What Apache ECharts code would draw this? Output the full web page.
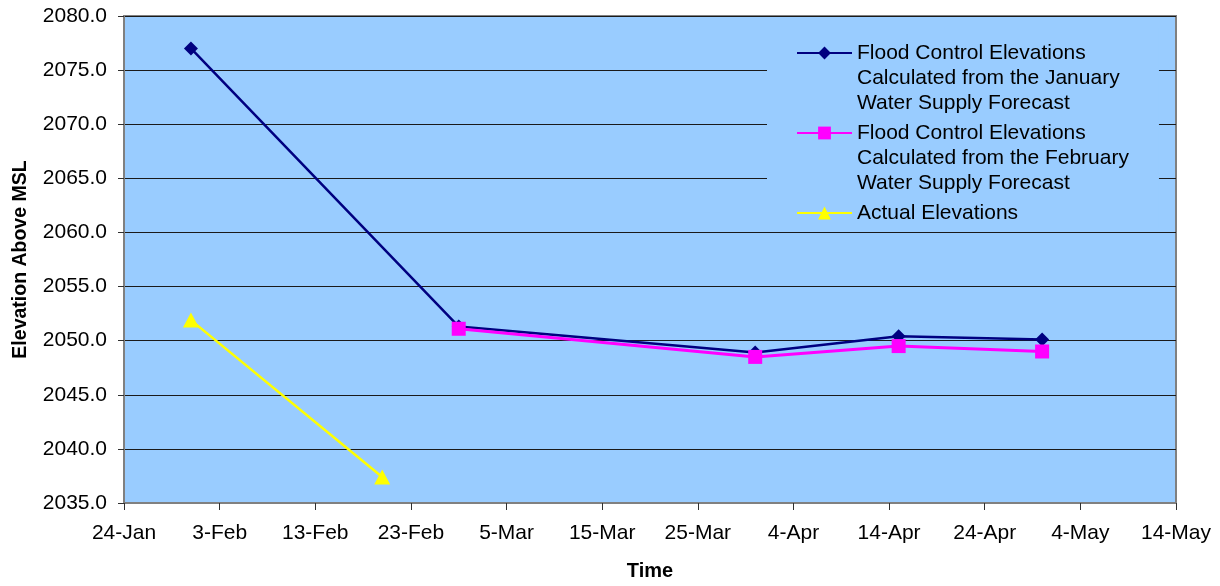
<!DOCTYPE html>
<html>
<head>
<meta charset="utf-8">
<script src="https://cdn.jsdelivr.net/npm/echarts@6/dist/echarts.min.js"></script>
<style>
  html, body { margin: 0; padding: 0; background: #ffffff; }
  #chart { width: 1220px; height: 586px; }
</style>
</head>
<body>
<div id="chart"></div>
<script>
// Reservoir elevations (feet above mean sea level) through the spring
const seriesNames = [
  'Flood Control Elevations\nCalculated from the January\nWater Supply Forecast',
  'Flood Control Elevations\nCalculated from the February\nWater Supply Forecast',
  'Actual Elevations'
];

const januaryDates  = ['2005-01-31', '2005-02-28', '2005-03-31', '2005-04-15', '2005-04-30'];
const januaryValues = [2077.0, 2051.3, 2048.9, 2050.4, 2050.1];

const februaryDates  = ['2005-02-28', '2005-03-31', '2005-04-15', '2005-04-30'];
const februaryValues = [2051.1, 2048.5, 2049.5, 2049.0];

const actualDates  = ['2005-01-31', '2005-02-20'];
const actualValues = [2051.9, 2037.4];

// Time axis runs 24-Jan to 14-May in 10-day steps
const axisStart = '2005-01-24';
const axisEnd   = '2005-05-14';
const tickDays  = 10;
const monthLabels = ['Jan', 'Feb', 'Mar', 'Apr', 'May', 'Jun', 'Jul', 'Aug', 'Sep', 'Oct', 'Nov', 'Dec'];

const yMin = 2035, yMax = 2080, yStep = 5;

const DAY = 86400000;
function toUTC(s) {
  const p = s.split('-').map(Number);
  return Date.UTC(p[0], p[1] - 1, p[2]);
}
const baseTime = toUTC(axisStart);
function dayOffset(s) { return Math.round((toUTC(s) - baseTime) / DAY); }
function pairs(dates, values) { return dates.map((d, i) => [dayOffset(d), values[i]]); }
function dayLabel(v) {
  const d = new Date(baseTime + v * DAY);
  return d.getUTCDate() + '-' + monthLabels[d.getUTCMonth()];
}

// Legend entries are padded with blank lines so every block is five lines
// tall and its first text line sits level with the line/marker icon.
function legendText(name) {
  const lines = name.split('\n').length;
  return '\n\n' + name + '\n'.repeat(Math.max(0, 3 - lines));
}

const FONT = '"Liberation Sans", Arial, sans-serif';

const chart = echarts.init(document.getElementById('chart'), null, { renderer: 'canvas' });

chart.setOption({
  animation: false,
  backgroundColor: '#ffffff',
  textStyle: { fontFamily: FONT },
  grid: {
    left: 124, right: 44, top: 16, bottom: 81,
    show: true,
    backgroundColor: '#99ccff',
    borderColor: '#808080',
    borderWidth: 2
  },
  xAxis: {
    type: 'value',
    min: 0,
    max: dayOffset(axisEnd),
    interval: tickDays,
    name: 'Time',
    nameLocation: 'middle',
    nameGap: 58,
    nameTextStyle: { fontFamily: FONT, fontSize: 20, fontWeight: 'bold', color: '#000' },
    axisLine: { show: true, onZero: false, lineStyle: { color: '#808080', width: 2 } },
    axisTick: { show: true, inside: false, length: 7, lineStyle: { color: '#303030', width: 1 } },
    axisLabel: {
      margin: 20,
      fontFamily: FONT, fontSize: 21, color: '#000',
      formatter: dayLabel
    },
    splitLine: { show: false }
  },
  yAxis: {
    type: 'value',
    min: yMin, max: yMax, interval: yStep,
    name: 'Elevation Above MSL',
    nameLocation: 'middle',
    nameGap: 93,
    nameRotate: 90,
    nameTextStyle: { fontFamily: FONT, fontSize: 19.5, fontWeight: 'bold', color: '#000' },
    axisLine: { show: true, lineStyle: { color: '#808080', width: 2 } },
    axisTick: { show: true, inside: false, length: 6, lineStyle: { color: '#303030', width: 1 } },
    axisLabel: {
      margin: 17,
      fontFamily: FONT, fontSize: 21, color: '#000',
      formatter: v => v.toFixed(1)
    },
    splitLine: { show: true, lineStyle: { color: '#1a1a1a', width: 1 } }
  },
  legend: {
    orient: 'vertical',
    left: 767,
    top: 28,
    // blank lines widen each block; negative vertical padding trims the box back
    padding: [-37.5, 30, -47.5, 29],
    itemGap: -45,
    itemWidth: 55,
    itemHeight: 16,
    backgroundColor: '#99ccff',
    selectedMode: false,
    formatter: legendText,
    textStyle: { fontFamily: FONT, fontSize: 21, color: '#000', lineHeight: 25 },
    data: seriesNames
  },
  series: [
    {
      name: seriesNames[0],
      type: 'line',
      data: pairs(januaryDates, januaryValues),
      symbol: 'diamond',
      symbolSize: 14,
      itemStyle: { color: '#000080' },
      lineStyle: { color: '#000080', width: 2.5 },
      z: 3
    },
    {
      name: seriesNames[1],
      type: 'line',
      data: pairs(februaryDates, februaryValues),
      symbol: 'rect',
      symbolSize: 14,
      itemStyle: { color: '#ff00ff' },
      lineStyle: { color: '#ff00ff', width: 3 },
      z: 4
    },
    {
      name: seriesNames[2],
      type: 'line',
      data: pairs(actualDates, actualValues),
      symbol: 'triangle',
      symbolSize: [16, 15],
      itemStyle: { color: '#ffff00' },
      lineStyle: { color: '#ffff00', width: 2.5 },
      z: 5
    }
  ]
});
</script>
</body>
</html>
